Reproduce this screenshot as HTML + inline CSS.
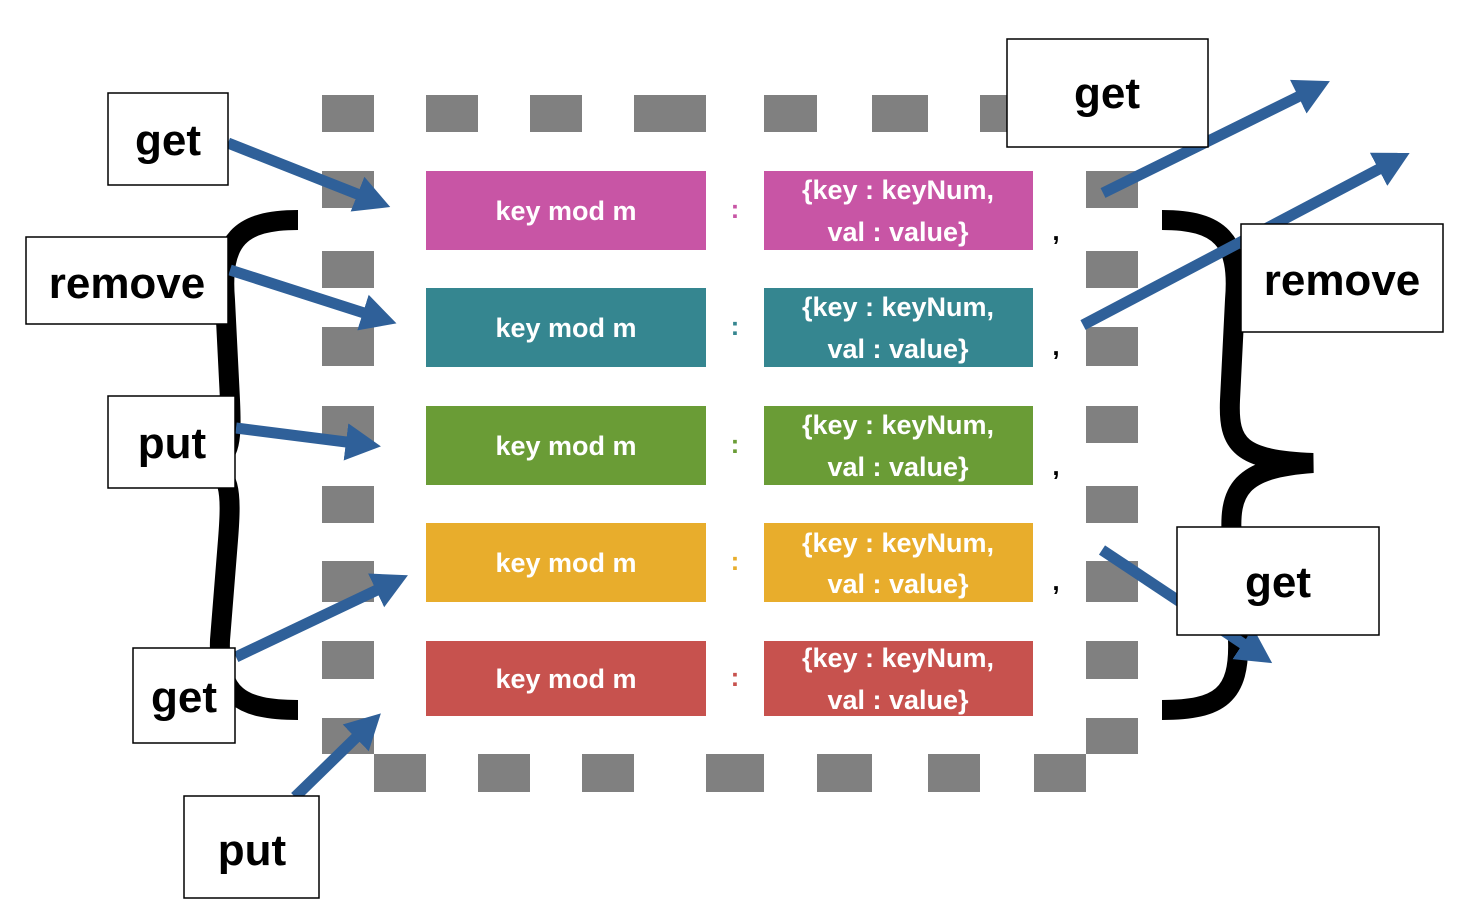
<!DOCTYPE html>
<html><head><meta charset="utf-8"><style>
html,body{margin:0;padding:0;background:#fff;}
svg{display:block;font-family:"Liberation Sans","Noto Sans CJK KR",sans-serif;font-weight:bold;}
</style></head><body>
<svg width="1475" height="920" viewBox="0 0 1475 920" xmlns="http://www.w3.org/2000/svg">
<defs>
<marker id="ah" markerWidth="4" markerHeight="4" refX="2.2" refY="2" orient="auto" markerUnits="strokeWidth">
<path d="M0,0.3 L3.2,2 L0,3.7 Z" fill="#2f6099"/></marker>
</defs>
<g fill="#808080">
<rect x="322" y="95" width="52" height="37"/><rect x="426" y="95" width="52" height="37"/><rect x="530" y="95" width="52" height="37"/><rect x="634" y="95" width="72" height="37"/><rect x="764" y="95" width="53" height="37"/><rect x="872" y="95" width="56" height="37"/><rect x="980" y="95" width="40" height="37"/>
<rect x="374" y="754" width="52" height="38"/><rect x="478" y="754" width="52" height="38"/><rect x="582" y="754" width="52" height="38"/><rect x="706" y="754" width="58" height="38"/><rect x="817" y="754" width="55" height="38"/><rect x="928" y="754" width="52" height="38"/><rect x="1034" y="754" width="52" height="38"/>
<rect x="322" y="171" width="52" height="37"/><rect x="322" y="251" width="52" height="37"/><rect x="322" y="327" width="52" height="39"/><rect x="322" y="406" width="52" height="37"/><rect x="322" y="486" width="52" height="37"/><rect x="322" y="561" width="52" height="41"/><rect x="322" y="641" width="52" height="38"/><rect x="322" y="718" width="52" height="36"/>
<rect x="1086" y="171" width="52" height="37"/><rect x="1086" y="251" width="52" height="37"/><rect x="1086" y="327" width="52" height="39"/><rect x="1086" y="406" width="52" height="37"/><rect x="1086" y="486" width="52" height="37"/><rect x="1086" y="561" width="52" height="41"/><rect x="1086" y="641" width="52" height="38"/><rect x="1086" y="718" width="52" height="36"/>
</g>
<g font-size="27" fill="#fff" text-anchor="middle">
<rect x="426" y="171" width="280" height="79" fill="#c855a5"/><rect x="764" y="171" width="269" height="79" fill="#c855a5"/>
<rect x="426" y="288" width="280" height="79" fill="#358690"/><rect x="764" y="288" width="269" height="79" fill="#358690"/>
<rect x="426" y="406" width="280" height="79" fill="#6a9c36"/><rect x="764" y="406" width="269" height="79" fill="#6a9c36"/>
<rect x="426" y="523" width="280" height="79" fill="#e8ad2c"/><rect x="764" y="523" width="269" height="79" fill="#e8ad2c"/>
<rect x="426" y="641" width="280" height="75" fill="#c7524e"/><rect x="764" y="641" width="269" height="75" fill="#c7524e"/>
<text x="566" y="220">key mod m</text><text x="898" y="199">{key : keyNum,</text><text x="898" y="241">val : value}</text>
<text x="566" y="337">key mod m</text><text x="898" y="316">{key : keyNum,</text><text x="898" y="358">val : value}</text>
<text x="566" y="455">key mod m</text><text x="898" y="434">{key : keyNum,</text><text x="898" y="476">val : value}</text>
<text x="566" y="572">key mod m</text><text x="898" y="552">{key : keyNum,</text><text x="898" y="593">val : value}</text>
<text x="566" y="688">key mod m</text><text x="898" y="667">{key : keyNum,</text><text x="898" y="709">val : value}</text>
</g>
<g font-size="26" text-anchor="middle">
<text x="735" y="218" fill="#c855a5">:</text><text x="735" y="335" fill="#358690">:</text><text x="735" y="453" fill="#6a9c36">:</text><text x="735" y="570" fill="#e8ad2c">:</text><text x="735" y="686" fill="#c7524e">:</text>
<text x="1056" y="240" fill="#000">,</text><text x="1056" y="355" fill="#000">,</text><text x="1056" y="475" fill="#000">,</text><text x="1056" y="590" fill="#000">,</text>
</g>
<g fill="none" stroke="#000" stroke-width="20">
<path d="M298,220 C240,220 220,240 225,300 L230,400 C232,445 230,460 205,465 C230,470 232,490 228,540 L220,640 C218,695 240,710 298,710"/>
<path d="M1162,220 C1220,220 1240,240 1235,300 L1230,400 C1228,445 1240,460 1313,463 C1240,468 1228,490 1232,540 L1238,640 C1240,695 1220,710 1162,710"/>
</g>
<g stroke="#2f6099" stroke-width="11" marker-end="url(#ah)">
<line x1="228" y1="143" x2="380" y2="203"/>
<line x1="230" y1="270" x2="386" y2="320"/>
<line x1="236" y1="428" x2="370" y2="445"/>
<line x1="236" y1="657" x2="398" y2="580"/>
<line x1="295" y1="797" x2="373" y2="721"/>
<line x1="1103" y1="193" x2="1320" y2="86"/>
<line x1="1083" y1="325" x2="1400" y2="158"/>
<line x1="1102" y1="550" x2="1263" y2="657"/>
</g>
<g fill="#fff" stroke="#000" stroke-width="1.5">
<rect x="108" y="93" width="120" height="92"/><rect x="26" y="237" width="202" height="87"/><rect x="108" y="396" width="127" height="92"/><rect x="133" y="648" width="102" height="95"/><rect x="184" y="796" width="135" height="102"/>
<rect x="1007" y="39" width="201" height="108"/><rect x="1241" y="224" width="202" height="108"/><rect x="1177" y="527" width="202" height="108"/>
</g>
<g font-size="44" fill="#000" text-anchor="middle">
<text x="168" y="155">get</text><text x="127" y="298">remove</text><text x="172" y="458">put</text><text x="184" y="712">get</text><text x="252" y="865">put</text>
<text x="1107" y="108">get</text><text x="1342" y="295">remove</text><text x="1278" y="597">get</text>
</g>
</svg>
</body></html>
